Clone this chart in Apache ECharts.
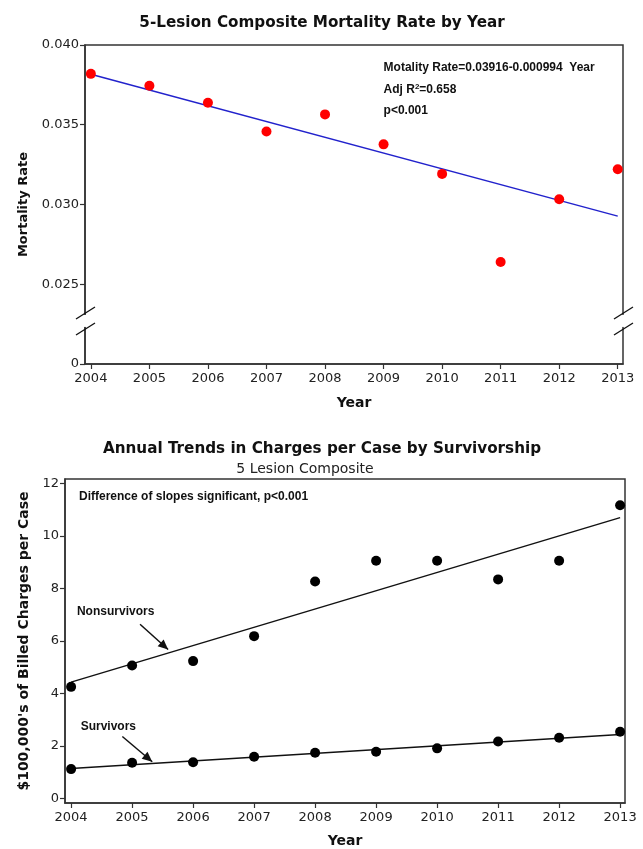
<!DOCTYPE html>
<html>
<head>
<meta charset="utf-8">
<script src="https://cdn.jsdelivr.net/npm/echarts@6/dist/echarts.min.js"></script>
<style>html,body{margin:0;padding:0;background:#fff}#c{width:643px;height:849px}</style>
</head>
<body>
<div id="c"></div>
<script>
// ---- data ----
const years = [2004, 2005, 2006, 2007, 2008, 2009, 2010, 2011, 2012, 2013];
const mortality = [0.03819, 0.03744, 0.03638, 0.03458, 0.03565, 0.03377, 0.03192, 0.02639, 0.03033, 0.03221];
const mortFitYears = [2004, 2013];
const mortFit = [0.03817, 0.02927];
const nonsurvivors = [4.25, 5.06, 5.23, 6.18, 8.26, 9.05, 9.05, 8.34, 9.05, 11.16];
const survivors = [1.12, 1.36, 1.38, 1.59, 1.74, 1.78, 1.91, 2.17, 2.31, 2.54];
const fitYears = [2004, 2013];
const nonsurvFit = [4.43, 10.69];
const survFit = [1.14, 2.44];
const topYTicks = [0.020, 0.025, 0.030, 0.035, 0.040]; // 0.020 position is shown as "0" (broken axis)
const bottomYTicks = [0, 2, 4, 6, 8, 10, 12];

const pairs = (xs, ys) => xs.map((x, i) => [x, ys[i]]);

const chart = echarts.init(document.getElementById('c'), null, {renderer: 'canvas'});
const axisColor = '#333';
const labelFont = {fontFamily: 'DejaVu Sans', fontSize: 13, color: '#222'};
const nameFont = {fontFamily: 'DejaVu Sans', fontSize: 13, fontWeight: 'bold', color: '#111'};

const xAxisCommon = {
  type: 'value',
  min: 2003.9,
  max: 2013.09,
  axisLine: {show: true, onZero: false, lineStyle: {color: axisColor, width: 1.5}},
  axisTick: {show: true, length: 5, lineStyle: {color: axisColor, width: 1.2}, customValues: years},
  axisLabel: Object.assign({margin: 8, customValues: years, formatter: v => String(v)}, labelFont),
  splitLine: {show: false},
  name: 'Year',
  nameLocation: 'middle',
  nameTextStyle: Object.assign({}, nameFont, {fontSize: 14})
};

chart.setOption({
  animation: false,
  backgroundColor: '#fff',
  title: [
    {text: '5-Lesion Composite Mortality Rate by Year', left: 317, textAlign: 'center', top: 11,
     textStyle: {fontFamily: 'DejaVu Sans', fontSize: 15.2, fontWeight: 'bold', color: '#111'}},
    {text: 'Annual Trends in Charges per Case by Survivorship', left: 317, textAlign: 'center', top: 437,
     textStyle: {fontFamily: 'DejaVu Sans', fontSize: 15.2, fontWeight: 'bold', color: '#111'}},
    {text: '5 Lesion Composite', left: 300, textAlign: 'center', top: 457,
     textStyle: {fontFamily: 'DejaVu Sans', fontSize: 14, fontWeight: 'normal', color: '#222'}}
  ],
  grid: [
    {left: 85, right: 20, top: 45, bottom: 485, show: true, borderColor: axisColor, borderWidth: 1.5, backgroundColor: 'transparent'},
    {left: 65, right: 18, top: 479, bottom: 46, show: true, borderColor: axisColor, borderWidth: 1.5, backgroundColor: 'transparent'}
  ],
  xAxis: [
    Object.assign({}, xAxisCommon, {gridIndex: 0, nameGap: 32}),
    Object.assign({}, xAxisCommon, {gridIndex: 1, min: 2003.9, max: 2013.08, nameGap: 31})
  ],
  yAxis: [
    {
      type: 'value', gridIndex: 0, min: 0.020, max: 0.040,
      axisLine: {show: true, onZero: false, lineStyle: {color: axisColor, width: 1.5}},
      axisTick: {show: true, length: 5, lineStyle: {color: axisColor, width: 1.2}, customValues: topYTicks},
      axisLabel: Object.assign({margin: 6, customValues: topYTicks,
        formatter: v => (Math.abs(v - 0.020) < 1e-9 ? '0' : v.toFixed(3))}, labelFont),
      splitLine: {show: false},
      name: 'Mortality Rate', nameLocation: 'middle', nameGap: 55,
      nameTextStyle: nameFont
    },
    {
      type: 'value', gridIndex: 1, min: -0.17, max: 12.16,
      axisLine: {show: true, onZero: false, lineStyle: {color: axisColor, width: 1.5}},
      axisTick: {show: true, length: 5, lineStyle: {color: axisColor, width: 1.2}, customValues: bottomYTicks},
      axisLabel: Object.assign({margin: 6, customValues: bottomYTicks, formatter: v => String(v)}, labelFont),
      splitLine: {show: false},
      name: "$100,000's of Billed Charges per Case", nameLocation: 'middle', nameGap: 28,
      nameTextStyle: Object.assign({}, nameFont, {fontSize: 14})
    }
  ],
  series: [
    {type: 'line', xAxisIndex: 0, yAxisIndex: 0, data: pairs(mortFitYears, mortFit), showSymbol: false,
     lineStyle: {color: '#2222cc', width: 1.5}, z: 2},
    {type: 'scatter', xAxisIndex: 0, yAxisIndex: 0, data: pairs(years, mortality), symbolSize: 10,
     itemStyle: {color: '#ff0000', opacity: 1}, z: 3},
    {type: 'line', xAxisIndex: 1, yAxisIndex: 1, data: pairs(fitYears, nonsurvFit), showSymbol: false,
     lineStyle: {color: '#111', width: 1.5}, z: 2},
    {type: 'line', xAxisIndex: 1, yAxisIndex: 1, data: pairs(fitYears, survFit), showSymbol: false,
     lineStyle: {color: '#111', width: 1.5}, z: 2},
    {type: 'scatter', xAxisIndex: 1, yAxisIndex: 1, data: pairs(years, nonsurvivors), symbolSize: 10,
     itemStyle: {color: '#000', opacity: 1}, z: 3},
    {type: 'scatter', xAxisIndex: 1, yAxisIndex: 1, data: pairs(years, survivors), symbolSize: 10,
     itemStyle: {color: '#000', opacity: 1}, z: 3}
  ]
});

// ---- annotations (positioned through the axes) ----
const p0 = v => chart.convertToPixel({gridIndex: 0}, v);
const p1 = v => chart.convertToPixel({gridIndex: 1}, v);
const annFont = 'bold 12px "Liberation Sans", Arial, sans-serif';
const g = [];

function txt(x, y, s, align) {
  g.push({type: 'text', x: x, y: y, z: 50,
    style: {text: s, font: annFont, fill: '#111', align: align || 'left', verticalAlign: 'middle'}});
}
function arrow(a, b) {
  g.push({type: 'line', z: 50, shape: {x1: a[0], y1: a[1], x2: b[0], y2: b[1]},
    style: {stroke: '#111', lineWidth: 1.5}});
  const ang = Math.atan2(b[1] - a[1], b[0] - a[0]);
  const L = 10, W = 4.5;
  const bx = b[0] - L * Math.cos(ang), by = b[1] - L * Math.sin(ang);
  const nx = -Math.sin(ang), ny = Math.cos(ang);
  g.push({type: 'polygon', z: 51, shape: {points: [[b[0], b[1]], [bx + W * nx, by + W * ny], [bx - W * nx, by - W * ny]]},
    style: {fill: '#111'}});
}

// top chart text
const tA = p0([2009.0, 0.0386]);
txt(tA[0], tA[1], 'Motality Rate=0.03916-0.000994  Year');
g.push({type: 'text', x: tA[0], y: tA[1] + 22, z: 50,
  style: {text: '{a|Adj R}{s|2}{a|=0.658}', verticalAlign: 'middle',
    rich: {a: {font: annFont, fill: '#111'}, s: {font: 'bold 8px "Liberation Sans", Arial, sans-serif', fill: '#111', verticalAlign: 'top', padding: [0, 0, 6, 0]}}}});
txt(tA[0], tA[1] + 43, 'p<0.001');

// broken-axis marks at the top chart
const brk = p0([2003.9, 0.0227]);
const brkR = p0([2013.09, 0.0227]);
[brk[0], brkR[0]].forEach(x => {
  g.push({type: 'rect', z: 60, shape: {x: x - 3, y: brk[1] - 6, width: 6, height: 12}, style: {fill: '#fff'}});
  [-8, 8].forEach(dy => {
    g.push({type: 'line', z: 61, shape: {x1: x - 9, y1: brk[1] + dy + 6, x2: x + 10, y2: brk[1] + dy - 6},
      style: {stroke: '#111', lineWidth: 1.3}});
  });
});

// bottom chart text + arrows
const bA = p1([2004.13, 11.47]);
txt(bA[0], bA[1], 'Difference of slopes significant, p<0.001');
const nsT = p1([2004.73, 7.12]);
txt(nsT[0], nsT[1], 'Nonsurvivors', 'center');
arrow(p1([2005.13, 6.63]), p1([2005.59, 5.67]));
const svT = p1([2004.61, 2.74]);
txt(svT[0], svT[1], 'Survivors', 'center');
arrow(p1([2004.84, 2.36]), p1([2005.33, 1.40]));

chart.setOption({graphic: g});
</script>
</body>
</html>
